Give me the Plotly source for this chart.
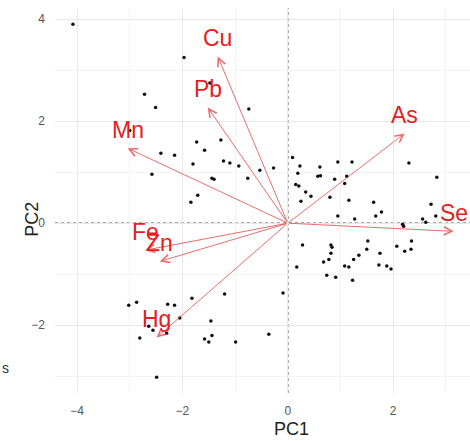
import plotly.graph_objects as go

# PCA scores (PC1, PC2) for each sample
pc1 = [-4.08, -1.97, -2.72, -2.51, -1.48, -0.74, -3.00, -1.73, -1.27, -1.58,
       -2.41, -2.15, -1.80, -1.22, -1.10, -0.93, -0.53, -0.27, -2.58, -1.44,
       -1.40, -0.76, -1.71, -1.84, 0.09, 0.23, 0.19, 0.15, 0.21, 0.34,
       0.25, 0.95, 1.22, 2.30, 0.61, 0.57, 0.62, 0.89, 1.12, 1.08,
       2.83, 0.44, 0.80, 1.16, 1.63, 2.72, 1.78, 1.67, 0.95, 2.81,
       1.27, 2.56, 2.62, 2.18, 2.20, 0.28, 0.17, 0.82, 0.84, 1.52,
       2.07, 2.35, 2.34, 2.22, 1.50, 0.82, 1.75, 1.35, 0.78, 0.68,
       1.25, 1.08, 1.16, 1.73, 1.88, 1.96, 0.74, 0.91, 1.23, -3.02,
       -2.87, -2.64, -2.56, -2.81, -2.49, -1.82, -1.20, -2.28, -2.15, -2.05,
       -2.30, -1.46, -1.44, -1.58, -1.50, -0.99, -0.36, -0.09]
pc2 = [3.90, 3.25, 2.53, 2.27, 2.75, 2.24, 1.82, 1.59, 1.63, 1.43,
       1.37, 1.33, 1.16, 1.22, 1.18, 1.12, 1.04, 1.08, 0.96, 0.88,
       0.86, 0.88, 0.55, 0.41, 1.29, 1.12, 0.98, 0.76, 0.73, 0.61,
       0.43, 1.20, 1.20, 1.18, 1.10, 0.92, 0.93, 0.86, 0.92, 0.78,
       0.90, 0.53, 0.51, 0.45, 0.41, 0.37, 0.22, 0.14, 0.14, 0.14,
       0.08, 0.08, 0.02, -0.02, -0.06, -0.43, -0.86, -0.43, -0.47, -0.35,
       -0.45, -0.35, -0.51, -0.55, -0.51, -0.59, -0.59, -0.63, -0.71, -0.76,
       -0.71, -0.84, -0.86, -0.82, -0.84, -0.90, -1.02, -1.06, -1.12, -1.61,
       -1.55, -2.02, -2.10, -2.25, -3.02, -1.47, -1.39, -1.59, -1.61, -1.86,
       -2.16, -1.92, -2.20, -2.27, -2.33, -2.33, -2.18, -1.37]

# Variable loadings (arrow tips)
elements = ["Cu", "Pb", "Mn", "As", "Se", "Fe", "Zn", "Hg"]
load_pc1 = [-1.33, -1.52, -3.04, 2.22, 3.15, -2.71, -2.43, -2.49]
load_pc2 = [3.27, 2.27, 1.47, 1.76, -0.16, -0.53, -0.75, -2.24]

tick_vals = [-4, -2, 0, 2, 4]

fig = go.Figure()

fig.add_trace(go.Scatter(
    x=pc1, y=pc2, mode="markers",
    marker=dict(color="#111111", size=3.5),
    hoverinfo="skip", showlegend=False,
))

fig.add_hline(y=0, line=dict(color="#555555", width=1.4, dash="dot"), layer="below")
fig.add_vline(x=0, line=dict(color="#555555", width=1.4, dash="dot"), layer="below")

arrow_color = "rgba(228,60,60,0.75)"
label_color = "#e3211f"
for name, lx, ly in zip(elements, load_pc1, load_pc2):
    fig.add_annotation(
        x=lx, y=ly, ax=0, ay=0, xref="x", yref="y", axref="x", ayref="y",
        text="", showarrow=True, arrowhead=5, arrowsize=1.6,
        arrowwidth=1, arrowcolor=arrow_color,
    )
for name, lx, ly in zip(elements, load_pc1, load_pc2):
    fig.add_annotation(
        x=lx, y=ly, xref="x", yref="y", text=name, showarrow=False,
        yshift=18, font=dict(family="Liberation Sans, Arial, sans-serif",
                             size=23, color=label_color),
    )

# axis titles
fig.add_annotation(text="PC1", xref="paper", yref="paper", x=0.571, y=0,
                   yshift=-24, yanchor="top", showarrow=False,
                   font=dict(family="Liberation Sans, Arial, sans-serif", size=18, color="#222222"))
fig.add_annotation(text="PC2", xref="paper", yref="paper", x=0, xshift=-35,
                   y=0.45, textangle=-90, showarrow=False,
                   font=dict(family="Liberation Sans, Arial, sans-serif", size=18, color="#222222"))
fig.add_annotation(text="s", xref="paper", yref="paper", x=-55 / 415, xanchor="left",
                   y=0.04, showarrow=False,
                   font=dict(family="Liberation Sans, Arial, sans-serif", size=14, color="#333333"))

axis_common = dict(
    showgrid=True, gridcolor="#e8e8e8", gridwidth=1, zeroline=False,
    showline=False, ticks="", tickvals=tick_vals,
    tickfont=dict(family="Liberation Sans, Arial, sans-serif", size=12, color="#555555"),
)

fig.update_layout(
    width=470, height=441,
    margin=dict(l=55, r=0, t=8, b=48),
    paper_bgcolor="white", plot_bgcolor="white",
    xaxis=dict(range=[-4.42, 3.46], ticklabelstandoff=9,
               minor=dict(dtick=1, tick0=0, showgrid=True, gridcolor="#f3f3f3", gridwidth=1),
               **axis_common),
    yaxis=dict(range=[-3.33, 4.22], ticklabelstandoff=9,
               minor=dict(dtick=1, tick0=0, showgrid=True, gridcolor="#f3f3f3", gridwidth=1),
               **axis_common),
)

fig.write_html("out.html")
